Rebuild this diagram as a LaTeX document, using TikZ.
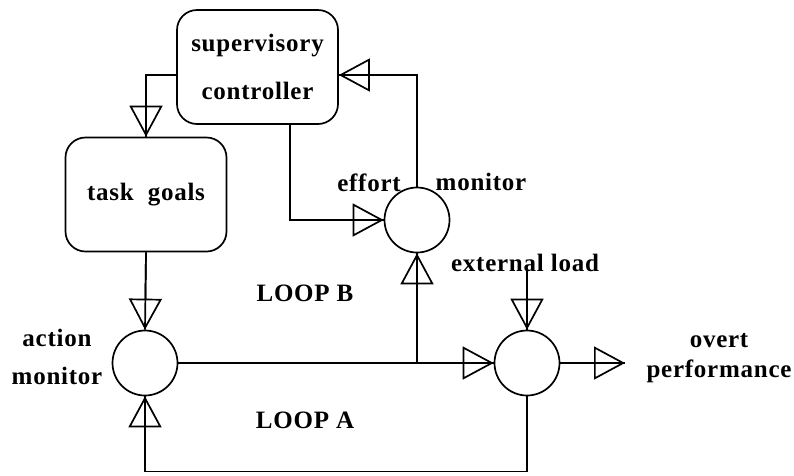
\documentclass[tikz,border=0pt]{standalone}
\usepackage{fontspec}
\setmainfont{Liberation Serif}[LetterSpace=3]
\usepackage{tikz}
\usetikzlibrary{arrows.meta}

\begin{document}
\begin{tikzpicture}[x=1pt, y=-1pt, line width=1.7pt,
  every node/.style={font=\fontsize{25}{30}\selectfont\bfseries},
  box/.style={draw, rounded corners=20pt, minimum width=161pt, minimum height=114pt, align=center},
  sum/.style={draw, circle, minimum size=65pt, inner sep=0pt},
  flow/.style={postaction={draw, -{Triangle[open, length=31pt, width=33pt]}}}]
  \useasboundingbox (0,0) rectangle (794,475);
  \node[box] (sup) at (257.5,67) {supervisory\\[18pt]controller};
  \node[box] (goals) at (146,194.5) {task\ \ goals};
  \node[sum] (effort) at (417,220) {};
  \node[sum] (action) at (145,363) {};
  \node[sum] (perf) at (527,363) {};
  \node (efftext) at (369,183) {effort};
  \node (montext) at (481,182) {monitor};
  \node[align=center] (acttext) at (57,357) {action\\[8pt]monitor};
  \node (looptextb) at (305,293) {LOOP B};
  \node (looptexta) at (305,420) {LOOP A};
  \node (loadtext) at (525,263) {external load};
  \node[align=center] (outtext) at (719,358) {overt\\performance};
  \coordinate (jn) at (417,363);
  \coordinate (loadtop) at (527,268);
  \coordinate (out) at (625,363);
  \draw[flow] ([yshift=-8pt]sup.west) -| (goals.north);
  \draw[flow] ([xshift=32.5pt]sup.south) |- (effort.west);
  \draw[flow] (effort.north) |- ([yshift=-8pt]sup.east);
  \draw[flow] (goals.south) -- (action.north);
  \draw[flow] (action.east) -- (perf.west);
  \draw[flow] (jn) -- (effort.south);
  \draw[flow] (loadtop) -- (perf.north);
  \draw[flow] (perf.east) -- (out);
  \draw[flow] (perf.south) -- ++(0,75) -| (action.south);
\end{tikzpicture}
\end{document}
